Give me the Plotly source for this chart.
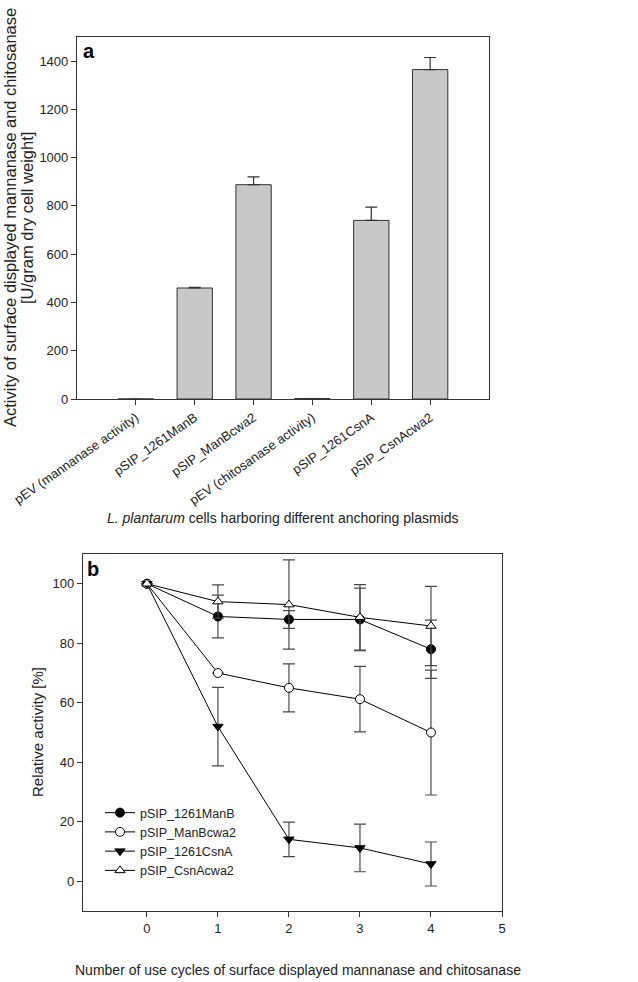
import plotly.graph_objects as go

W, H = 638, 982

# ---------- Panel a data ----------
categories_a = ["pEV (mannanase activity)", "pSIP_1261ManB", "pSIP_ManBcwa2",
                "pEV (chitosanase activity)", "pSIP_1261CsnA", "pSIP_CsnAcwa2"]
activity_a = [0, 460, 888, 2, 740, 1365]
activity_err_a = [0, 3, 32, 0, 55, 50]

# ---------- Panel b data ----------
cycles = [0, 1, 2, 3, 4]
manB = [100, 89, 88, 88, 78]
manB_err = [0, 7.2, 3.0, 10.5, 9.8]
manBcwa2 = [100, 70, 65, 61.2, 50]
manBcwa2_err = [0, 0, 8.1, 11, 21]
csnA = [100, 52, 14.1, 11.2, 5.8]
csnA_err = [0, 13.2, 5.8, 8, 7.4]
csnAcwa2 = [100, 94, 93, 88.7, 85.8]
csnAcwa2_err = [0, 5.6, 15, 11, 13.3]

FONT = "Liberation Sans, Arial, sans-serif"
ERRC = "#4a4a4a"

def px_x(p):
    return p / W

def px_y(p):
    return 1 - p / H

fig = go.Figure()

fig.add_trace(go.Bar(
    x=list(range(len(categories_a))), y=activity_a, width=0.6,
    marker=dict(color="#c8c8c8", line=dict(color="#333333", width=1)),
    error_y=dict(type="data", array=activity_err_a, arrayminus=[0]*6,
                 color="#333333", thickness=1.2, width=6),
    xaxis="x", yaxis="y", showlegend=False))

series = [
    ("pSIP_1261ManB", manB, manB_err, "circle", "black"),
    ("pSIP_ManBcwa2", manBcwa2, manBcwa2_err, "circle", "white"),
    ("pSIP_1261CsnA", csnA, csnA_err, "triangle-down", "black"),
    ("pSIP_CsnAcwa2", csnAcwa2, csnAcwa2_err, "triangle-up", "white"),
]
for name, vals, errs, sym, fill in series:
    fig.add_trace(go.Scatter(
        x=cycles, y=vals, name=name, mode="lines+markers",
        line=dict(color="black", width=1),
        marker=dict(symbol=sym, size=9, color=fill, line=dict(color="black", width=1)),
        error_y=dict(type="data", array=errs, color=ERRC, thickness=1.2, width=6),
        xaxis="x2", yaxis="y2"))

axis_common = dict(showline=True, linecolor="#333333", linewidth=1.2, mirror=True,
                   ticks="outside", ticklen=5, tickcolor="#333333", showgrid=False,
                   zeroline=False, automargin=False,
                   tickfont=dict(family=FONT, size=13, color="#222"))

fig.update_layout(
    width=W, height=H, margin=dict(l=0, r=0, t=0, b=0, autoexpand=False),
    paper_bgcolor="white", plot_bgcolor="white",
    font=dict(family=FONT, color="#222"),
    xaxis=dict(domain=[px_x(77), px_x(489)], range=[-1, 6],
               tickvals=list(range(6)), ticktext=categories_a, tickangle=-35,
               anchor="y", **axis_common),
    yaxis=dict(domain=[px_y(399), px_y(37)], range=[0, 1500],
               tickvals=[0, 200, 400, 600, 800, 1000, 1200, 1400],
               anchor="x", **axis_common),
    xaxis2=dict(domain=[px_x(83), px_x(502)], range=[-0.9, 5],
                tickvals=[0, 1, 2, 3, 4, 5], anchor="y2", **axis_common),
    yaxis2=dict(domain=[px_y(911), px_y(554)], range=[-10, 110],
                tickvals=[0, 20, 40, 60, 80, 100], anchor="x2", **axis_common),
    legend=dict(x=px_x(100), y=px_y(798), xanchor="left", yanchor="top",
                bgcolor="rgba(0,0,0,0)", font=dict(family=FONT, size=12.5, color="#222"),
                tracegroupgap=0, itemwidth=30),
)

ann = [
    dict(text="<b>a</b>", x=px_x(81), y=px_y(38), xanchor="left", yanchor="top",
         font=dict(size=20, color="black")),
    dict(text="<b>b</b>", x=px_x(85), y=px_y(556), xanchor="left", yanchor="top",
         font=dict(size=20, color="black")),
    dict(text="Activity of surface displayed mannanase and chitosanase",
         x=px_x(10), y=px_y(218), xanchor="center", yanchor="middle", textangle=-90,
         font=dict(size=16.5, color="#222")),
    dict(text="[U/gram dry cell weight]",
         x=px_x(27), y=px_y(218), xanchor="center", yanchor="middle", textangle=-90,
         font=dict(size=16.5, color="#222")),
    dict(text="<i>L. plantarum</i> cells harboring different anchoring plasmids",
         x=px_x(283), y=px_y(518), xanchor="center", yanchor="middle",
         font=dict(size=14, color="#222")),
    dict(text="Relative activity [%]", x=px_x(37), y=px_y(732), xanchor="center",
         yanchor="middle", textangle=-90, font=dict(size=15, color="#222")),
    dict(text="Number of use cycles of surface displayed mannanase and chitosanase",
         x=px_x(298), y=px_y(970), xanchor="center", yanchor="middle",
         font=dict(size=14, color="#222")),
]
for a in ann:
    a.update(xref="paper", yref="paper", showarrow=False)
    a["font"]["family"] = FONT
fig.update_layout(annotations=ann)

fig.write_html("out.html", config={"displayModeBar": False},
               post_script="document.body.style.margin='0';")
